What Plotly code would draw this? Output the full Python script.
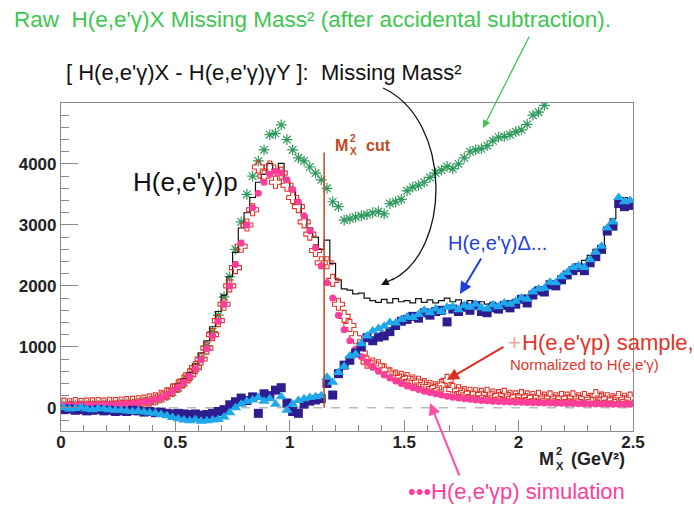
import plotly.graph_objects as go

W, H = 694, 506
L, R, T, B = 61, 61, 103, 75

# ---------------- data (bin centres, width 0.025 GeV^2) ----------------
x_bins = [round(0.0125 + 0.025 * i, 4) for i in range(100)]

# [H(e,e'g)X - H(e,e'g)gY] missing mass^2 (black histogram)
black_hist = [
    20, 25, 30, 25, 30, 35, 30, 35, 40, 40,
    45, 50, 55, 65, 80, 100, 120, 150, 190, 260,
    400, 480, 580, 720, 900, 1100, 1330, 1580, 1850, 2150,
    2550, 2950, 3200, 3450, 3700, 3830, 4010, 3880, 4010, 3720,
    3550, 3350, 3150, 2950, 2800, 2600, 2750, 2370, 2100, 1950,
    1930, 1870, 1880, 1800, 1760, 1730, 1780, 1720, 1790, 1740,
    1760, 1720, 1790, 1730, 1770, 1720, 1760, 1800, 1740, 1770,
    1720, 1760, 1710, 1740, 1700, 1730, 1690, 1720, 1760, 1780,
    1820, 1850, 1900, 1950, 1980, 2050, 2080, 2150, 2200, 2280,
    2350, 2420, 2500, 2600, 2650, 2950, 3100, 3400, 3450, 3350,
]

# raw H(e,e'g)X missing mass^2 (green stars), up to 2.1125
raw_x = x_bins[:85]
raw_vals = [
    30, 35, 40, 35, 40, 45, 40, 45, 50, 50,
    55, 60, 65, 75, 90, 110, 130, 160, 200, 260,
    330, 420, 520, 650, 820, 1020, 1250, 1520, 1820, 2150,
    2600, 3050, 3500, 3800, 4050, 4230, 4480, 4500, 4640, 4400,
    4230, 4100, 4050, 3950, 3850, 3740, 3600, 3380, 3300, 3080,
    3100, 3130, 3150, 3170, 3200, 3220, 3180, 3350, 3380, 3420,
    3560, 3620, 3650, 3700, 3780, 3850, 3900, 3960, 3920, 4000,
    4100, 4200, 4230, 4250, 4300, 4380, 4440, 4450, 4480, 4530,
    4560, 4650, 4800, 4850, 4960,
]

# H(e,e'g)Delta... (navy squares)
delta_sq = [
    -30, -20, -40, -30, -50, -40, -30, -50, -40, -60,
    -50, -60, -40, -50, -70, -60, -80, -70, -90, -100,
    -90, -100, -110, -100, -120, -110, -90, -60, -30, 50,
    100, 160, 120, 180, -90, 230, 200, 290, 330, 80,
    -60, -90, 60, 110, 130, 150, 400, 210, 560, 700,
    780, 900, 1000, 1150, 1100, 1160, 1180, 1250, 1350, 1420,
    1450, 1500, 1470, 1560, 1520, 1580, 1600, 1410, 1620, 1580,
    1650, 1600, 1680, 1580, 1560, 1640, 1620, 1680, 1640, 1700,
    1780, 1720, 1850, 1920, 1900, 2020, 2000, 2100, 2180, 2250,
    2300, 2250, 2380, 2480, 2600, 2900, 2980, 3350, 3300, 3320,
]

# H(e,e'g)Delta... (cyan triangles)
delta_tri = [
    0, -20, -10, 10, -20, -30, -10, -20, -30, -40,
    -40, -50, -60, -50, -70, -80, -90, -110, -130, -160,
    -180, -200, -210, -190, -220, -210, -200, -190, -150, -80,
    0, 60, 110, 130, 170, 110, 150, 60, 180, -40,
    60, 120, 150, 170, 180, 200, 500, 420, 580, 680,
    850, 880, 1050, 1180, 1260, 1300, 1340, 1400, 1390, 1450,
    1490, 1480, 1530, 1600, 1560, 1620, 1580, 1650, 1660, 1610,
    1680, 1650, 1700, 1640, 1620, 1690, 1660, 1720, 1700, 1750,
    1800, 1780, 1900, 1950, 1960, 2060, 2050, 2150, 2220, 2300,
    2330, 2300, 2430, 2550, 2650, 2950, 3050, 3450, 3380, 3400,
]

# H(e,e'gp) simulation (pink dots)
sim_vals = [
    40, 40, 45, 40, 45, 45, 50, 50, 55, 55,
    60, 65, 70, 80, 95, 110, 135, 165, 210, 270,
    340, 420, 520, 640, 790, 970, 1180, 1420, 1700, 2000,
    2350, 2700, 3000, 3280, 3520, 3700, 3830, 3880, 3850, 3740,
    3580, 3380, 3150, 2900, 2620, 2330, 2050, 1800, 1520, 1280,
    1100, 960, 840, 750, 670, 600, 540, 490, 440, 400,
    360, 330, 300, 270, 250, 230, 210, 190, 175, 160,
    150, 140, 130, 122, 115, 110, 105, 100, 95, 92,
    90, 87, 85, 82, 80, 78, 76, 74, 72, 70,
    68, 67, 65, 64, 62, 61, 60, 59, 58, 57,
]

# H(e,e'gp) sample normalised (red open crosses)
sample_vals = [
    60, 50, 70, 55, 60, 65, 70, 60, 75, 70,
    80, 85, 90, 100, 110, 130, 150, 190, 230, 290,
    360, 440, 540, 660, 800, 980, 1200, 1430, 1700, 2000,
    2300, 2650, 3000, 3250, 3950, 3800, 3950, 3700, 3850, 3650,
    3450, 3300, 3050, 2850, 2580, 2380, 2380, 2090, 1700, 1500,
    1350, 1150, 900, 750, 720, 690, 620, 560, 520, 500,
    480, 440, 420, 380, 350, 330, 370, 450, 300, 280,
    250, 240, 230, 220, 240, 210, 200, 220, 190, 180,
    200, 180, 170, 190, 160, 180, 150, 170, 160, 180,
    150, 170, 140, 200, 160, 150, 130, 170, 140, 160,
]

CUT_X = 1.15
CUT_TOP = 4190
X_RANGE = [0, 2.5]
Y_RANGE = [-380, 5000]
Y_TICKS = [0, 1000, 2000, 3000, 4000]
X_TICKS = [0, 0.5, 1, 1.5, 2, 2.5]
X_TICKTEXT = ["0", "0.5", "1", "1.5", "2", "2.5"]

# ---------------- colours ----------------
C_GREEN_TXT = "#3ec650"
C_GREEN = "#2e9a5c"
C_NAVY = "#2d1d8f"
C_CYAN = "#1fa8ec"
C_PINK = "#ff3d9a"
C_RED = "#e2352a"
C_BROWN = "#bf4a22"
C_BLUE_TXT = "#1f3fdc"
FONT = "Liberation Sans, Arial, sans-serif"

fig = go.Figure()

fig.add_trace(go.Scatter(
    x=raw_x, y=raw_vals, mode="markers",
    marker=dict(symbol="asterisk-open", size=9, color=C_GREEN,
                line=dict(color=C_GREEN, width=1.2)),
    showlegend=False))

fig.add_trace(go.Scatter(
    x=x_bins, y=black_hist, mode="lines", line=dict(color="#111", width=1.2, shape="hvh"),
    showlegend=False))

fig.add_trace(go.Scatter(
    x=x_bins, y=sample_vals, mode="markers",
    marker=dict(symbol="cross-open", size=10, color=C_RED,
                line=dict(color=C_RED, width=1.1)),
    showlegend=False))

fig.add_trace(go.Scatter(
    x=x_bins, y=sim_vals, mode="markers",
    marker=dict(symbol="circle", size=7, color=C_PINK),
    showlegend=False))

fig.add_trace(go.Scatter(
    x=x_bins, y=delta_sq, mode="markers",
    marker=dict(symbol="square", size=9, color=C_NAVY),
    showlegend=False))

fig.add_trace(go.Scatter(
    x=x_bins, y=delta_tri, mode="markers",
    marker=dict(symbol="triangle-up", size=10, color=C_CYAN),
    showlegend=False))

# zero dashed line and cut line
fig.add_shape(type="line", xref="x", yref="y", x0=X_RANGE[0], x1=X_RANGE[1], y0=0, y1=0,
              line=dict(color="#999", width=1, dash="dash"), layer="below")
fig.add_shape(type="line", xref="x", yref="y", x0=CUT_X, x1=CUT_X, y0=0, y1=CUT_TOP,
              line=dict(color=C_BROWN, width=1.5))

PW = W - L - R
PH = H - T - B


def px(xp):
    return (xp - L) / PW


def py(yp):
    return (H - B - yp) / PH


def text(xp, yp, s, size, color, bold=False, anchor="left"):
    fig.add_annotation(
        x=px(xp), y=py(yp), xref="paper", yref="paper", text=("<b>%s</b>" % s) if bold else s,
        showarrow=False, xanchor=anchor, yanchor="middle",
        font=dict(family=FONT, size=size, color=color))


def arrow(x0, y0, x1, y1, color, width):
    fig.add_annotation(
        x=px(x1), y=py(y1), xref="paper", yref="paper", ax=x0 - x1, ay=y0 - y1,
        text="", showarrow=True, arrowhead=2, arrowsize=1.2, arrowwidth=width,
        arrowcolor=color)


nb = "\u00a0"
text(12, 19, "Raw" + nb + nb + "H(e,e'γ)X Missing Mass² (after accidental subtraction).", 22.5, C_GREEN_TXT)
text(64, 73, "[ H(e,e'γ)X - H(e,e'γ)γY ]:" + nb + nb + "Missing Mass²", 22, "#111")
text(131, 182, "H(e,e'γ)p", 26, "#111")
text(446, 243, "H(e,e'γ)Δ...", 20, C_BLUE_TXT)
text(506, 342, "+", 22, "#f2a0a0")
text(520, 342, "H(e,e'γp) sample,", 22, C_RED)
text(508, 364, "Normalized to H(e,e'γ)", 15, C_RED)
text(406, 491, "•••H(e,e'γp) simulation", 22, C_PINK)

# M^2_X cut label (stacked super/subscript)
text(333, 145, "M", 16, C_BROWN, bold=True)
text(348, 138, "2", 10, C_BROWN, bold=True)
text(348, 151, "X", 10, C_BROWN, bold=True)
text(364, 145, "cut", 16, C_BROWN, bold=True)

# axis title M^2_X (GeV^2)
text(537, 459, "M", 18, "#222", bold=True)
text(554, 451, "2", 11, "#222", bold=True)
text(554, 466, "X", 11, "#222", bold=True)
text(569, 459, "(GeV²)", 18, "#222", bold=True)

# arrows
arrow(530, 35, 483, 128, "#3ec650", 1.3)
arrow(482, 257, 460, 294, "#1f3fdc", 2)
arrow(505, 346, 447, 380, "#d83020", 2)
arrow(460, 477, 430, 403, "#ff4fa8", 2)

# curved black arrow
p0, p1, p2, p3 = (383, 88), (452, 120), (452, 250), (392, 280)
path = "M %f,%f C %f,%f %f,%f %f,%f" % (px(p0[0]), py(p0[1]), px(p1[0]), py(p1[1]),
                                        px(p2[0]), py(p2[1]), px(p3[0]), py(p3[1]))
fig.add_shape(type="path", xref="paper", yref="paper", path=path,
              line=dict(color="#111", width=1.3))
arrow(395, 278, 381, 285, "#111", 1.3)

axis_common = dict(showline=True, linecolor="#8a8a8a", linewidth=1.2, mirror=True,
                   showgrid=False, zeroline=False, ticks="inside", tickcolor="#8a8a8a",
                   tickfont=dict(family=FONT, size=17, color="#222", weight="bold"))

fig.update_xaxes(range=X_RANGE, tickvals=X_TICKS, ticktext=X_TICKTEXT, ticklen=11,
                 ticklabelstandoff=-5,
                 minor=dict(ticks="inside", dtick=0.1, ticklen=6, tickcolor="#8a8a8a"),
                 **axis_common)
fig.update_yaxes(range=Y_RANGE, tickvals=Y_TICKS, ticklen=17,
                 minor=dict(ticks="inside", dtick=200, tick0=0, ticklen=8, tickcolor="#8a8a8a"),
                 **axis_common)

fig.update_layout(width=W, height=H, margin=dict(l=L, r=R, t=T, b=B, pad=0),
                  paper_bgcolor="white", plot_bgcolor="white",
                  font=dict(family=FONT))

fig.write_html("out.html")
